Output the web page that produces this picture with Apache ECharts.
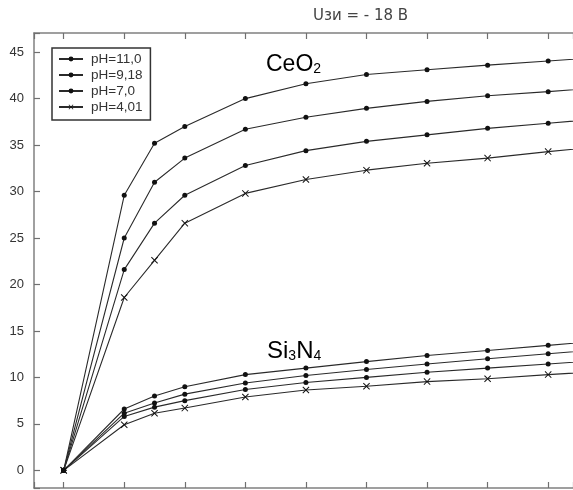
<!DOCTYPE html>
<html>
<head>
<meta charset="utf-8">
<script src="https://cdn.jsdelivr.net/npm/echarts@6/dist/echarts.min.js"></script>
<style>
html,body{margin:0;padding:0;background:#fff;}
#chart{width:573px;height:490px;}
</style>
</head>
<body>
<div id="chart"></div>
<script>
// x positions of measurements
const xValues = [0, 1, 1.5, 2, 3, 4, 5, 6, 7, 8, 9];
const seriesNames = ['pH=11,0', 'pH=9,18', 'pH=7,0', 'pH=4,01'];
// CeO2 curves
const ceo2_ph11  = [0, 29.6, 35.2, 37.0, 40.0, 41.6, 42.6, 43.1, 43.6, 44.05, 44.5];
const ceo2_ph918 = [0, 25.0, 31.0, 33.6, 36.7, 38.0, 38.95, 39.7, 40.3, 40.75, 41.25];
const ceo2_ph7   = [0, 21.6, 26.6, 29.6, 32.8, 34.4, 35.4, 36.1, 36.8, 37.35, 37.9];
const ceo2_ph401 = [0, 18.6, 22.6, 26.6, 29.8, 31.3, 32.3, 33.05, 33.6, 34.3, 34.9];
// Si3N4 curves
const si_ph11  = [0, 6.6, 8.0, 9.0, 10.3, 11.0, 11.7, 12.35, 12.9, 13.45, 14.0];
const si_ph918 = [0, 6.15, 7.25, 8.2, 9.4, 10.2, 10.85, 11.45, 12.0, 12.55, 13.05];
const si_ph7   = [0, 5.8, 6.8, 7.5, 8.7, 9.45, 10.0, 10.55, 11.0, 11.45, 11.9];
const si_ph401 = [0, 4.9, 6.15, 6.7, 7.9, 8.65, 9.05, 9.55, 9.85, 10.3, 10.7];
const yTicks = [0, 5, 10, 15, 20, 25, 30, 35, 40, 45];

const titleText = 'Uзи = - 18 В';

const FONT = '"Liberation Sans", Arial, sans-serif';
const LINE = '#2a2a2a';
const crossPath = 'path://M0,1L1,0L5,4L9,0L10,1L6,5L10,9L9,10L5,6L1,10L0,9L4,5Z';

function pairs(ys){ return xValues.map((x,i)=>[x, ys[i]]); }

function mkSeries(name, ys, isCross){
  return {
    name: name,
    type: 'line',
    data: pairs(ys),
    symbol: isCross ? crossPath : 'circle',
    symbolSize: isCross ? 7 : 5,
    showSymbol: true,
    clip: true,
    lineStyle: {color: LINE, width: 1.1},
    itemStyle: {color: '#111', borderWidth: 0},
    emphasis: {disabled: true},
    animation: false,
    z: 3
  };
}

const chart = echarts.init(document.getElementById('chart'), null, {renderer: 'canvas'});

const axisCommon = {
  type: 'value',
  min: -0.49,
  max: 8.41,
  splitNumber: 9,
  axisLine: {show: true, onZero: false, lineStyle: {color: '#808080', width: 1.5}},
  axisTick: {show: true, inside: true, length: 6, lineStyle: {color: '#707070', width: 1.2}},
  axisLabel: {show: false},
  splitLine: {show: false}
};

chart.setOption({
  backgroundColor: '#ffffff',
  animation: false,
  grid: {left: 34, top: 33, right: 0, bottom: 2, containLabel: false},
  xAxis: [
    Object.assign({position: 'bottom'}, axisCommon),
    Object.assign({position: 'top'}, axisCommon)
  ],
  yAxis: {
    type: 'value',
    min: -1.9,
    max: 47.06,
    splitNumber: 10,
    axisLine: {show: true, onZero: false, lineStyle: {color: '#808080', width: 1.5}},
    axisTick: {show: true, inside: true, length: 6, lineStyle: {color: '#707070', width: 1.2}},
    axisLabel: {
      color: '#333', fontFamily: FONT, fontSize: 13, margin: 10,
      formatter: function(v){ return yTicks.indexOf(Math.round(v*1000)/1000) >= 0 ? String(Math.round(v)) : ''; }
    },
    splitLine: {show: false}
  },
  legend: {
    data: seriesNames,
    orient: 'vertical',
    left: 52, top: 48,
    padding: [4, 8, 6, 6],
    itemWidth: 24, itemHeight: 6, itemGap: 2,
    borderColor: '#333', borderWidth: 1.5,
    backgroundColor: '#fff',
    textStyle: {color: '#333', fontFamily: FONT, fontSize: 13.5, lineHeight: 14, padding: [0, 0, 0, 3]},
    selectedMode: false
  },
  graphic: [
    {type: 'text', left: 313, top: 9, style: {text: titleText, font: '15px "DejaVu Sans", sans-serif', fill: '#444'}},
    {type: 'text', left: 266, top: 53, style: {
      text: '{a|CeO}{b|2}',
      rich: {a: {fontFamily: FONT, fontSize: 23, color: '#111'}, b: {fontFamily: FONT, fontSize: 14, color: '#111', verticalAlign: 'bottom'}}
    }},
    {type: 'text', left: 267, top: 339, style: {
      text: '{a|Si}{b|3}{a|N}{b|4}',
      rich: {a: {fontFamily: FONT, fontSize: 24, color: '#111'}, b: {fontFamily: FONT, fontSize: 14, color: '#111', verticalAlign: 'bottom'}}
    }}
  ],
  series: [
    mkSeries(seriesNames[0], ceo2_ph11, false),
    mkSeries(seriesNames[1], ceo2_ph918, false),
    mkSeries(seriesNames[2], ceo2_ph7, false),
    mkSeries(seriesNames[3], ceo2_ph401, true),
    mkSeries(seriesNames[0], si_ph11, false),
    mkSeries(seriesNames[1], si_ph918, false),
    mkSeries(seriesNames[2], si_ph7, false),
    mkSeries(seriesNames[3], si_ph401, true)
  ]
});
</script>
</body>
</html>
